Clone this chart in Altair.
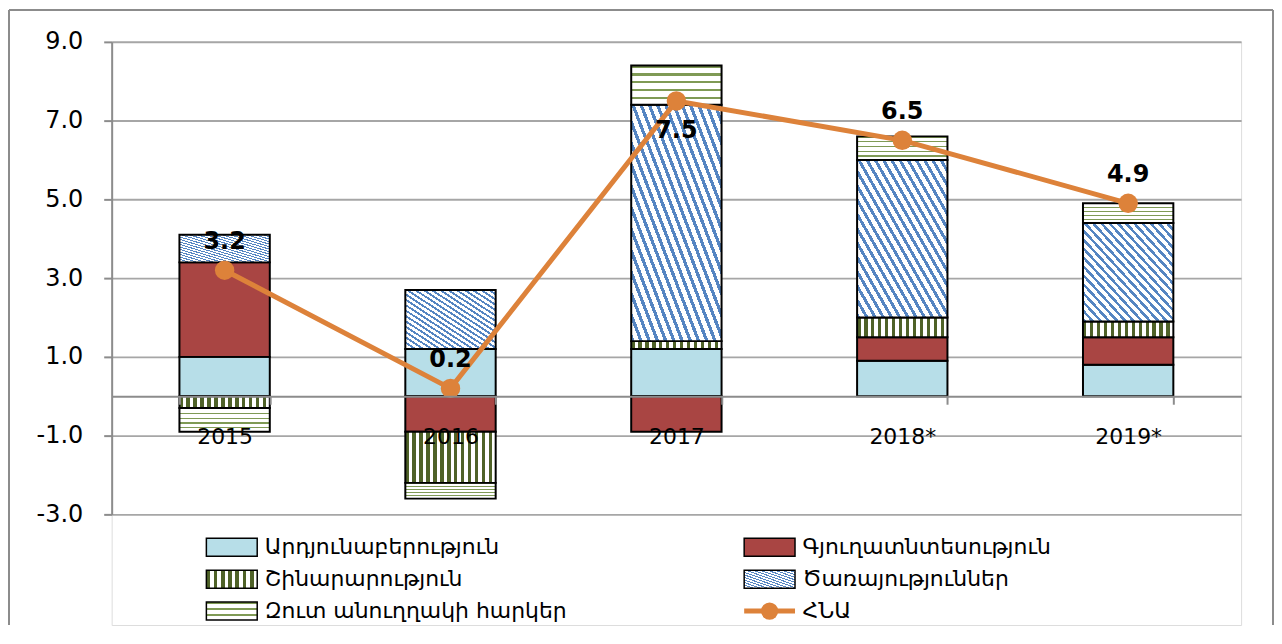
import altair as alt
import pandas as pd

years = ["2015", "2016", "2017", "2018*", "2019*"]
series_names = [
    "Արդյունաբերություն",
    "Գյուղատնտեսություն",
    "Շինարարություն",
    "Ծառայություններ",
    "Զուտ անուղղակի հարկեր",
]
gdp_name = "ՀՆԱ"

industry = [1.0, 1.2, 1.2, 0.9, 0.8]
agriculture = [2.4, -0.9, -0.9, 0.6, 0.7]
construction = [-0.3, -1.3, 0.2, 0.5, 0.4]
services = [0.7, 1.5, 6.0, 4.0, 2.5]
net_taxes = [-0.6, -0.4, 1.0, 0.6, 0.5]
gdp = [3.2, 0.2, 7.5, 6.5, 4.9]

y_ticks = [-3, -1, 1, 3, 5, 7, 9]

ORANGE = "#DD823A"
AXIS_GRAY = "#8C8C8C"
GRID_GRAY = "#A6A6A6"


def stripes(c_on, c_off, n, frac, x1, y1, x2, y2):
    stops = []
    for i in range(n):
        a = round(i / n, 5)
        b = round((i + frac) / n, 5)
        c = round((i + 1) / n, 5)
        stops += [
            {"offset": a, "color": c_on},
            {"offset": b, "color": c_on},
            {"offset": b, "color": c_off},
            {"offset": c, "color": c_off},
        ]
    return {"gradient": "linear", "stops": stops, "x1": x1, "y1": y1, "x2": x2, "y2": y2}


bar_fills = [
    "#B7DEE8",
    "#A94543",
    stripes("#4F6228", "#FFFFFF", 13, 0.5, 0, 0, 1, 0),
    stripes("#5585C2", "#FFFFFF", 22, 0.42, 0, 1, 1, 0),
    stripes("#7F9A55", "#FFFFFF", 5, 0.28, 0, 0, 0, 1),
]
legend_fills = [
    "#B7DEE8",
    "#A94543",
    stripes("#4F6228", "#FFFFFF", 7, 0.5, 0, 0, 1, 0),
    stripes("#5585C2", "#FFFFFF", 14, 0.42, 0, 1, 1, 0),
    stripes("#7F9A55", "#FFFFFF", 3, 0.28, 0, 0, 0, 1),
]

values = [industry, agriculture, construction, services, net_taxes]
rows = []
for i, name in enumerate(series_names):
    for yr, v in zip(years, values[i]):
        rows.append({"year": yr, "series": name, "order": i, "value": v})
df = pd.DataFrame(rows)
gdp_df = pd.DataFrame({"year": years, "gdp": gdp})

x_enc = alt.X(
    "year:N",
    scale=alt.Scale(domain=years, paddingInner=0.6, paddingOuter=0.3),
    axis=alt.Axis(
        title=None, labelAngle=0, labelFontSize=22, labelColor="black",
        labelPadding=22, tickBand="extent", tickSize=8, tickColor=AXIS_GRAY,
        tickWidth=2, domainColor=AXIS_GRAY, domainWidth=2, offset=-229.5,
        grid=False, zindex=1,
    ),
)


def y_enc(field):
    return alt.Y(
        field,
        scale=alt.Scale(domain=[-3, 9], range=[474, 0], nice=False, zero=False),
        axis=alt.Axis(
            values=y_ticks, title=None, labelFontSize=24,
            labelExpr="replace(format(datum.value, '.1f'), '\u2212', '-')",
            labelColor="black", labelPadding=21, tickSize=8, tickColor=AXIS_GRAY,
            tickWidth=2, domainColor=AXIS_GRAY, domainWidth=2,
            gridColor=GRID_GRAY, gridWidth=2,
        ),
    )


base = alt.Chart(df).transform_stack(
    stack="value", groupby=["year"], as_=["v0", "v1"],
    sort=[alt.SortField("order", order="ascending")], offset="zero",
)

main_layers = []
for i, name in enumerate(series_names):
    main_layers.append(
        base.transform_filter(alt.datum.series == name)
        .mark_bar(fill=bar_fills[i], stroke="black", strokeWidth=2)
        .encode(x=x_enc, y=y_enc("v0:Q"), y2="v1:Q")
    )

gbase = alt.Chart(gdp_df)
main_layers.append(gbase.mark_line(color=ORANGE, strokeWidth=5).encode(x=x_enc, y=y_enc("gdp:Q")))
main_layers.append(gbase.mark_circle(color=ORANGE, size=380, opacity=1).encode(x=x_enc, y=y_enc("gdp:Q")))
main_layers.append(
    gbase.transform_filter(alt.datum.year != "2017")
    .mark_text(fontSize=24, fontWeight="bold", dy=-28, color="black")
    .encode(x=x_enc, y=y_enc("gdp:Q"), text=alt.Text("gdp:Q", format=".1f"))
)
main_layers.append(
    gbase.transform_filter(alt.datum.year == "2017")
    .mark_text(fontSize=24, fontWeight="bold", dy=30, color="black")
    .encode(x=x_enc, y=y_enc("gdp:Q"), text=alt.Text("gdp:Q", format=".1f"))
)

# outer frame
frame = alt.Chart(pd.DataFrame({"a": [0]}))
main_layers.append(frame.mark_rule(color=AXIS_GRAY, strokeWidth=2).encode(
    x=alt.value(-103), y=alt.value(-32), y2=alt.value(585)))
main_layers.append(frame.mark_rule(color=AXIS_GRAY, strokeWidth=2).encode(
    x=alt.value(-103), x2=alt.value(1165), y=alt.value(-32)))
main_layers.append(frame.mark_rule(color=AXIS_GRAY, strokeWidth=2).encode(
    x=alt.value(1165), y=alt.value(-32), y2=alt.value(585)))

main = alt.layer(*main_layers)

# legend
leg_df = pd.DataFrame({"name": series_names + [gdp_name], "idx": list(range(6))})
leg_base = alt.Chart(leg_df).transform_calculate(
    row="floor(datum.idx / 2)", col="datum.idx % 2"
)
lx = alt.X("col:Q", scale=alt.Scale(domain=[0, 1], range=[120.5, 660]), axis=None)
ly = alt.Y("row:Q", scale=alt.Scale(domain=[0, 2], range=[507, 571]), axis=None)

legend_layers = []
for i in range(5):
    legend_layers.append(
        leg_base.transform_filter(alt.datum.idx == i)
        .mark_rect(width=51, height=18, fill=legend_fills[i], stroke="black", strokeWidth=1.5)
        .encode(x=lx, y=ly)
    )
legend_layers.append(
    leg_base.transform_filter(alt.datum.idx == 5)
    .mark_rect(width=51, height=5, fill=ORANGE)
    .encode(x=lx, y=ly)
)
legend_layers.append(
    leg_base.transform_filter(alt.datum.idx == 5)
    .mark_circle(size=300, color=ORANGE, opacity=1)
    .encode(x=lx, y=ly)
)
legend_layers.append(
    leg_base.mark_text(align="left", baseline="middle", dx=33, fontSize=22, color="black")
    .encode(x=lx, y=ly, text="name:N")
)
legend = alt.layer(*legend_layers)

chart = (
    alt.layer(main, legend)
    .resolve_scale(x="independent", y="independent")
    .properties(width=1133, height=585, padding=0, background="white")
    .configure_view(stroke=None)
    .configure(font="DejaVu Sans")
)

chart.save("out.html", embed_options={"renderer": "svg", "actions": False})
